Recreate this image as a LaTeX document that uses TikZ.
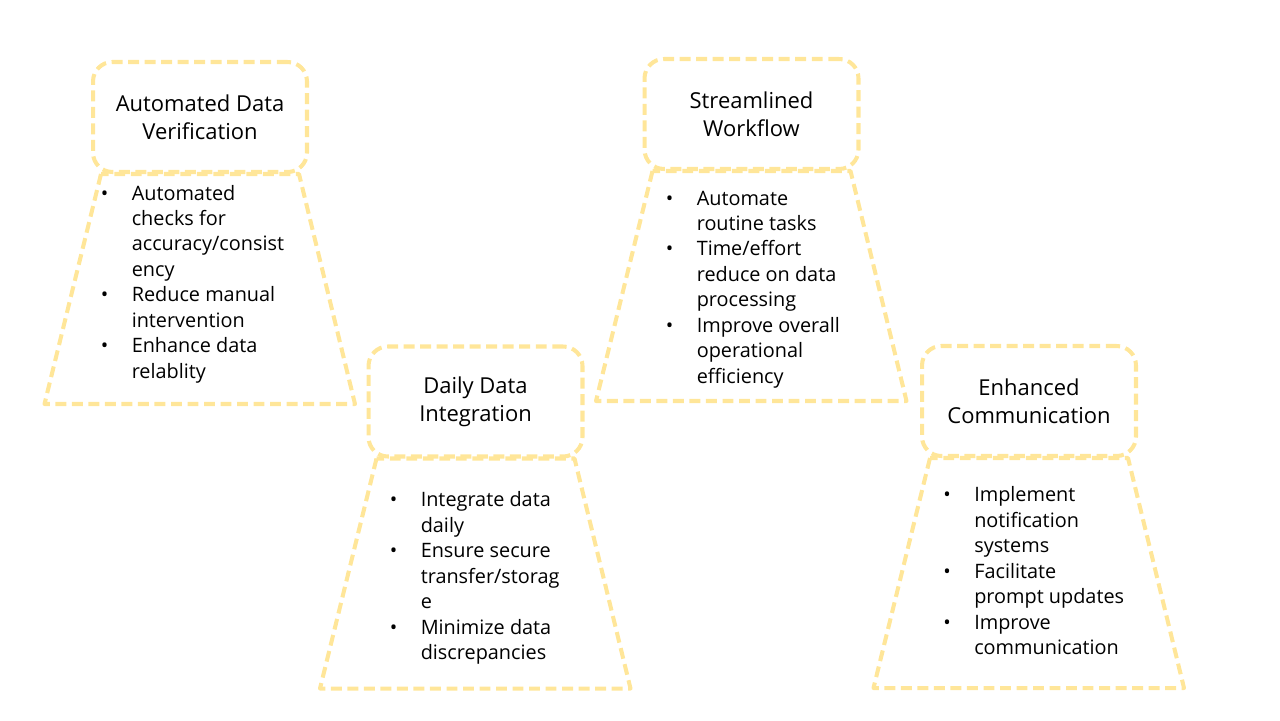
\documentclass[tikz,border=0pt]{standalone}
\usepackage{fontspec}
\setmainfont{Open Sans}
\usetikzlibrary{calc}
\definecolor{conePale}{HTML}{FFE699}
\newcommand{\pts}[1]{\begin{tabular}[t]{@{}p{17.6pt}@{}l@{}}#1\end{tabular}}
\tikzset{
  hdr/.style={draw=conePale,line width=2.3pt,dash pattern=on 6.2pt off 3.2pt,
              rounded corners=11pt,minimum width=4.28cm,minimum height=2.2cm,
              align=center,font=\fontsize{12.5}{15.9}\selectfont},
  cone/.style={draw=conePale,line width=2.3pt,dash pattern=on 6.2pt off 3.2pt,
               line join=round},
  lst/.style={anchor=base west,inner sep=0pt,font=\fontsize{11.3}{14.5}\selectfont},
}
\begin{document}
\begin{tikzpicture}[x=0.02cm,y=-0.02cm]
    \useasboundingbox (0,0) rectangle (1280,720);
    % --- headers
    \node[hdr] at (200,117)   (ver)  {Automated Data\\Verification};
    \node[hdr] at (475.5,401.5) (intg) {Daily Data\\Integration};
    \node[hdr] at (751.5,114) (flow) {Streamlined\\Workflow};
    \node[hdr] at (1029,401)  (comm) {Enhanced\\Communication};
    % --- cones under the headers
    \foreach \h in {ver,intg,flow,comm}
      \draw[cone] ($(\h.south)+(-99,0)$) -- ($(\h.south)+(-155.5,230)$)
        -- ($(\h.south)+(155,230)$) -- ($(\h.south)+(99,0)$) -- cycle;
    % --- bullet lists
    \node[lst] at (100.5,200) (ver-pts) {\pts{
      \textbullet & Automated\\ & checks for\\ & accuracy/consist\\ & ency\\
      \textbullet & Reduce manual\\ & intervention\\
      \textbullet & Enhance data\\ & relablity}};
    \node[lst] at (389.5,506.7) (intg-pts) {\pts{
      \textbullet & Integrate data\\ & daily\\
      \textbullet & Ensure secure\\ & transfer/storag\\ & e\\
      \textbullet & Minimize data\\ & discrepancies}};
    \node[lst] at (665.5,205) (flow-pts) {\pts{
      \textbullet & Automate\\ & routine tasks\\
      \textbullet & Time/effort\\ & reduce on data\\ & processing\\
      \textbullet & Improve overall\\ & operational\\ & efficiency}};
    \node[lst] at (943,501.7) (comm-pts) {\pts{
      \textbullet & Implement\\ & notification\\ & systems\\
      \textbullet & Facilitate\\ & prompt updates\\
      \textbullet & Improve\\ & communication}};
\end{tikzpicture}
\end{document}
